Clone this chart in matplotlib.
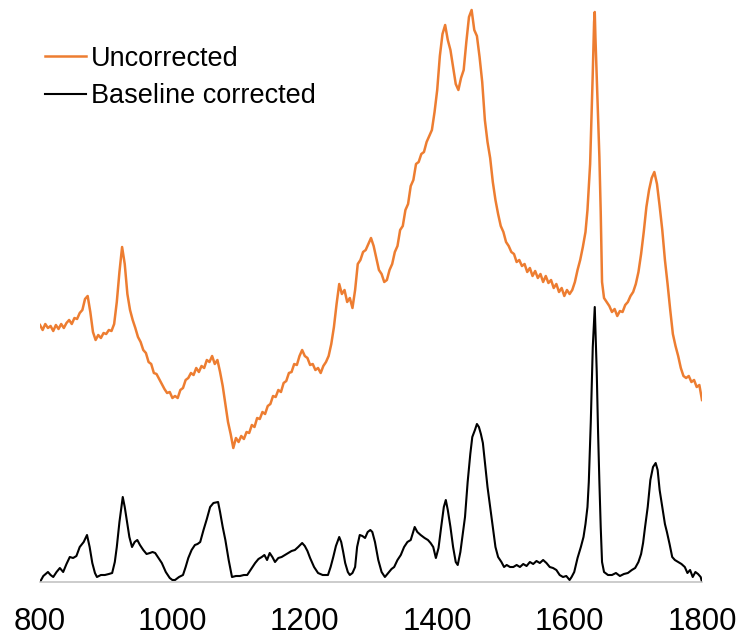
import matplotlib.pyplot as plt

plt.rcParams['font.family'] = ['Liberation Sans', 'DejaVu Sans']

# Raman shift (cm-1) and intensity (a.u.)
uncorr_x = [800, 804, 808, 812, 816, 820, 824, 828, 832, 836, 840, 844, 848, 852, 856, 860, 864, 868, 872, 876,
            880, 884, 888, 892, 896, 900, 904, 908, 912, 916, 920, 924, 928, 932, 936, 940, 944, 948, 952, 956,
            960, 964, 968, 972, 976, 980, 984, 988, 992, 996, 1000, 1004, 1008, 1012, 1016, 1020, 1024, 1028,
            1032, 1036, 1040, 1044, 1048, 1052, 1056, 1060, 1064, 1068, 1072, 1076, 1080, 1084, 1088, 1092,
            1096, 1100, 1104, 1108, 1112, 1116, 1120, 1124, 1128, 1132, 1136, 1140, 1144, 1148, 1152, 1156,
            1160, 1164, 1168, 1172, 1176, 1180, 1184, 1188, 1192, 1196, 1200, 1204, 1208, 1212, 1216, 1220,
            1224, 1228, 1232, 1236, 1240, 1244, 1248, 1252, 1256, 1260, 1264, 1268, 1272, 1276, 1280, 1284,
            1288, 1292, 1296, 1300, 1304, 1308, 1312, 1316, 1320, 1324, 1328, 1332, 1336, 1340, 1344, 1348,
            1352, 1356, 1360, 1364, 1368, 1372, 1376, 1380, 1384, 1388, 1392, 1396, 1400, 1404, 1408, 1412,
            1416, 1420, 1424, 1428, 1432, 1436, 1440, 1444, 1448, 1452, 1456, 1460, 1464, 1468, 1472, 1476,
            1480, 1484, 1488, 1492, 1496, 1500, 1504, 1508, 1512, 1516, 1520, 1524, 1528, 1532, 1536, 1540,
            1544, 1548, 1552, 1556, 1560, 1564, 1568, 1572, 1576, 1580, 1584, 1588, 1592, 1596, 1600, 1604,
            1608, 1612, 1616, 1620, 1624, 1627, 1629, 1631, 1633, 1635, 1637, 1638, 1639, 1641, 1643, 1645,
            1647, 1649, 1652, 1656, 1660, 1664, 1668, 1672, 1676, 1680, 1684, 1688, 1692, 1696, 1700, 1704,
            1708, 1712, 1716, 1720, 1724, 1728, 1732, 1736, 1740, 1744, 1748, 1752, 1756, 1760, 1764, 1768,
            1772, 1776, 1780, 1784, 1788, 1792, 1796, 1800]
uncorr_y = [257, 252, 258, 254, 256, 251, 257, 253, 258, 254, 259, 262, 258, 264, 263, 269, 272, 283, 286, 270,
            250, 242, 247, 244, 249, 248, 252, 251, 258, 280, 310, 335, 318, 288, 272, 262, 254, 245, 240, 232,
            229, 220, 218, 209, 208, 203, 198, 193, 189, 190, 184, 186, 184, 192, 194, 202, 204, 209,
            207, 214, 210, 216, 214, 222, 220, 226, 218, 222, 210, 196, 178, 160, 148, 134,
            144, 140, 146, 143, 150, 149, 157, 155, 164, 163, 170, 168, 176, 178, 186, 185,
            192, 190, 199, 201, 209, 210, 218, 217, 226, 232, 226, 224, 217, 218, 212, 214,
            209, 216, 220, 226, 238, 255, 278, 298, 288, 292, 280, 284, 274, 292, 318, 322,
            330, 332, 338, 344, 336, 324, 312, 308, 300, 302, 312, 318, 330, 336, 352, 356,
            372, 378, 396, 402, 418, 420, 428, 430, 440, 446, 452, 470, 492, 526, 548, 557,
            542, 532, 515, 498, 492, 504, 512, 540, 565, 572, 552, 546, 525, 500, 462, 440,
            424, 400, 382, 368, 356, 350, 340, 336, 330, 328, 320, 322, 316, 318, 310, 314,
            306, 311, 304, 308, 300, 306, 299, 302, 294, 298, 290, 294, 286, 292, 288, 292,
            300, 312, 322, 335, 350, 372, 395, 418, 462, 509, 560, 570, 545, 505, 465, 425,
            370, 300, 284, 280, 276, 270, 273, 266, 271, 270, 277, 280, 286, 290, 298, 310,
            328, 350, 375, 392, 404, 410, 398, 376, 352, 322, 298, 272, 248, 236, 226, 214,
            206, 204, 206, 200, 202, 195, 197, 182]

corr_x = [800, 805, 812, 816, 820, 825, 830, 835, 840, 845, 850, 855, 860, 866, 871, 875, 879, 883, 886, 892,
          898, 904, 909, 913, 916, 920, 925, 928, 931, 935, 939, 943, 947, 951, 956, 961, 966, 970, 974, 978,
          984, 990, 996, 1000, 1004, 1010, 1016, 1020, 1024, 1029, 1034, 1038, 1042, 1047, 1052, 1057, 1062,
          1069, 1072, 1076, 1080, 1085, 1090, 1096, 1102, 1108, 1113, 1118, 1122, 1125, 1130, 1135, 1139,
          1143, 1147, 1151, 1155, 1160, 1165, 1170, 1175, 1180, 1185, 1190, 1196, 1200, 1204, 1208, 1214,
          1220, 1227, 1235, 1239, 1243, 1247, 1252, 1255, 1258, 1261, 1265, 1268, 1272, 1276, 1279, 1283,
          1287, 1291, 1295, 1299, 1302, 1306, 1311, 1316, 1321, 1326, 1331, 1335, 1340, 1345, 1350, 1355,
          1360, 1366, 1370, 1375, 1381, 1386, 1390, 1394, 1398, 1402, 1406, 1410, 1413, 1416, 1420, 1424,
          1428, 1431, 1435, 1439, 1442, 1446, 1450, 1453, 1457, 1460, 1463, 1466, 1469, 1472, 1476, 1480,
          1484, 1488, 1492, 1497, 1501, 1505, 1510, 1515, 1520, 1525, 1530, 1535, 1540, 1545, 1550, 1555,
          1560, 1565, 1570, 1575, 1580, 1585, 1590, 1595, 1600, 1603, 1607, 1612, 1617, 1621, 1624, 1627,
          1629, 1632, 1635, 1638, 1641, 1643, 1645, 1647, 1649, 1652, 1658, 1664, 1670, 1676, 1682, 1688,
          1694, 1699, 1704, 1708, 1711, 1714, 1718, 1722, 1726, 1730, 1733, 1736, 1740, 1744, 1747, 1751,
          1755, 1759, 1764, 1769, 1774, 1778, 1782, 1786, 1790, 1794, 1798, 1800]
corr_y = [0, 6, 10, 7, 5, 10, 14, 10, 18, 25, 24, 26, 35, 40, 47, 35, 19, 9, 5, 7,
          7, 8, 9, 20, 35, 60, 85, 75, 62, 45, 35, 40, 42, 37, 32, 28, 29, 30, 29, 25,
          19, 10, 4, 2, 2, 5, 7, 15, 24, 32, 37, 38, 40, 52, 63, 75, 79,
          80, 70, 55, 42, 22, 5, 6, 6, 7, 7, 12, 16, 19, 23, 25, 27,
          22, 29, 25, 20, 24, 25, 27, 29, 31, 32, 35, 39, 36, 31, 24, 15,
          9, 7, 7, 15, 25, 36, 45, 40, 30, 19, 10, 7, 9, 15, 35, 47,
          46, 44, 50, 52, 50, 40, 22, 10, 5, 9, 13, 15, 22, 27, 35, 40,
          42, 55, 50, 47, 44, 42, 39, 35, 24, 34, 55, 75, 82, 72, 55, 35,
          20, 17, 30, 50, 65, 100, 128, 145, 152, 158, 155, 148, 139, 120, 95, 75,
          55, 35, 25, 20, 15, 17, 15, 15, 17, 15, 18, 16, 20, 18, 21, 19,
          22, 19, 15, 14, 12, 7, 5, 6, 2, 5, 10, 24, 35, 45, 58, 75,
          100, 160, 235, 275, 210, 150, 100, 55, 20, 10, 7, 7, 9, 6, 8, 9,
          12, 14, 20, 28, 39, 55, 75, 102, 115, 119, 112, 92, 75, 58, 50, 38,
          25, 22, 20, 18, 15, 9, 12, 5, 10, 8, 5, 0]

fig = plt.figure(figsize=(7.43, 6.37), dpi=100)
ax = fig.add_axes([40 / 743, 55 / 637, 662 / 743, 582 / 637])

ax.plot(uncorr_x, uncorr_y, color='#ED7D31', lw=1.8, label='Uncorrected')
ax.plot(corr_x, corr_y, color='black', lw=1.5, label='Baseline corrected')

ax.set_xlim(800, 1800)
ax.set_ylim(0, 582)
ax.set_xticks([800, 1000, 1200, 1400, 1600, 1800])
ax.set_yticks([])
ax.tick_params(axis='x', length=0, pad=18, labelsize=22.5)
for s in ['top', 'left', 'right']:
    ax.spines[s].set_visible(False)
ax.spines['bottom'].set_color('#BFBFBF')
ax.spines['bottom'].set_linewidth(1.1)

ax.legend(loc='upper left', bbox_to_anchor=(0.008, 0.921), frameon=False, fontsize=19.5,
          handlelength=1.5, handletextpad=0.2, labelspacing=0.42, borderpad=0, borderaxespad=0)

fig.savefig('out.png', dpi=100)
